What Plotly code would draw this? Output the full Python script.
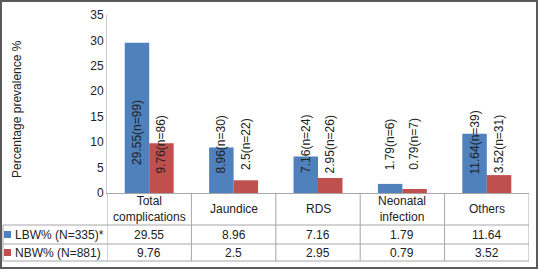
import plotly.graph_objects as go

# ---------------- data ----------------
categories = ["Total<br>complications", "Jaundice", "RDS", "Neonatal<br>infection", "Others"]
lbw_values = [29.55, 8.96, 7.16, 1.79, 11.64]
nbw_values = [9.76, 2.5, 2.95, 0.79, 3.52]
lbw_counts = [99, 30, 24, 6, 39]
nbw_counts = [86, 22, 26, 7, 31]
lbw_name = "LBW% (N=335)*"
nbw_name = "NBW% (N=881)"
y_ticks = [0, 5, 10, 15, 20, 25, 30, 35]
y_title = "Percentage prevalence %"

# ---------------- style ----------------
W, H = 538, 272
L, R, T, B = 107, 9, 15, 79
PW, PH = W - L - R, H - T - B
BLUE, RED = "#4F81BD", "#C0504D"
FONT = "Liberation Sans, Arial, sans-serif"
TXT = "#222222"
GRID = "#a6a6a6"

def px_x(px):
    return (px - L) / PW

def px_y(py):
    return (H - B - py) / PH

n = len(categories)
xs = list(range(n))
half = 0.145

fig = go.Figure()
fig.add_bar(x=xs, y=lbw_values, name=lbw_name, marker=dict(color=BLUE, line=dict(width=0)))
fig.add_bar(x=xs, y=nbw_values, name=nbw_name, marker=dict(color=RED, line=dict(width=0)))

ann = []
# bar labels (rotated)
def label_y(v):
    return 9.6 + 0.12 * max(0.0, v - 9.6)

for i in range(n):
    for off, v, c in ((-half, lbw_values[i], lbw_counts[i]), (half, nbw_values[i], nbw_counts[i])):
        ann.append(dict(x=i + off, y=label_y(v), xref="x", yref="y",
                        text=f"{v:g}(n={c})", textangle=-90, showarrow=False,
                        xanchor="center", yanchor="middle",
                        font=dict(family=FONT, size=12, color=TXT)))

# y-axis title
ann.append(dict(x=px_x(17), y=px_y(109), xref="paper", yref="paper", text=y_title,
                textangle=-90, showarrow=False, xanchor="center", yanchor="middle",
                font=dict(family=FONT, size=12, color=TXT)))

# table
row_cat = (193, 225)
row1 = (225, 244)
row2 = (244, 261)
for i in range(n):
    ann.append(dict(x=i, y=px_y(sum(row_cat) / 2), xref="x", yref="paper", text=categories[i],
                    showarrow=False, xanchor="center", yanchor="middle",
                    font=dict(family=FONT, size=12, color=TXT)))
    ann.append(dict(x=i, y=px_y(sum(row1) / 2), xref="x", yref="paper", text=f"{lbw_values[i]:g}",
                    showarrow=False, xanchor="center", yanchor="middle",
                    font=dict(family=FONT, size=12, color=TXT)))
    ann.append(dict(x=i, y=px_y(sum(row2) / 2), xref="x", yref="paper", text=f"{nbw_values[i]:g}",
                    showarrow=False, xanchor="center", yanchor="middle",
                    font=dict(family=FONT, size=12, color=TXT)))

for name, row in ((lbw_name, row1), (nbw_name, row2)):
    ann.append(dict(x=px_x(13), y=px_y(sum(row) / 2), xref="paper", yref="paper", text=name,
                    showarrow=False, xanchor="left", yanchor="middle",
                    font=dict(family=FONT, size=12, color=TXT)))

shapes = []
# vertical table lines at category boundaries
for k in range(n + 1):
    shapes.append(dict(type="line", xref="x", yref="paper", x0=k - 0.5, x1=k - 0.5,
                       y0=px_y(row_cat[0]), y1=px_y(row2[1]), line=dict(color=GRID, width=1)))
# horizontal table lines
for py, x0 in ((row1[0], 3), (row2[0], 3), (row2[1], 3)):
    shapes.append(dict(type="line", xref="paper", yref="paper", x0=px_x(x0), x1=1,
                       y0=px_y(py), y1=px_y(py), line=dict(color=GRID, width=1)))
shapes.append(dict(type="line", xref="paper", yref="paper", x0=px_x(3), x1=px_x(3),
                   y0=px_y(row1[0]), y1=px_y(row2[1]), line=dict(color=GRID, width=1)))
# legend keys
for col, row in ((BLUE, row1), (RED, row2)):
    cy = sum(row) / 2
    shapes.append(dict(type="rect", xref="paper", yref="paper", x0=px_x(4), x1=px_x(11),
                       y0=px_y(cy + 3.5), y1=px_y(cy - 3.5), fillcolor=col, line=dict(width=0)))
# outer frame
shapes.append(dict(type="rect", xref="paper", yref="paper", x0=px_x(1), x1=px_x(537),
                   y0=px_y(1), y1=px_y(268), line=dict(color="#5a5a5a", width=2)))

fig.update_layout(
    width=W, height=H, margin=dict(l=L, r=R, t=T, b=B),
    paper_bgcolor="white", plot_bgcolor="white",
    barmode="group", bargap=0.42, bargroupgap=0,
    showlegend=False,
    annotations=ann, shapes=shapes,
    font=dict(family=FONT, size=12, color=TXT),
)
fig.update_xaxes(range=[-0.5, n - 0.5], showticklabels=False, showgrid=False, zeroline=False,
                 showline=True, linecolor=GRID, linewidth=1, ticks="", fixedrange=True)
fig.update_yaxes(range=[0, 35], tickvals=y_ticks, showgrid=False, zeroline=False,
                 showline=True, linecolor="#c8c8c8", linewidth=1, ticks="",
                 tickfont=dict(family=FONT, size=12, color=TXT), fixedrange=True)

fig.write_html("out.html", config=dict(displayModeBar=False),
               post_script="document.body.style.margin='0';document.body.style.overflow='hidden';")
